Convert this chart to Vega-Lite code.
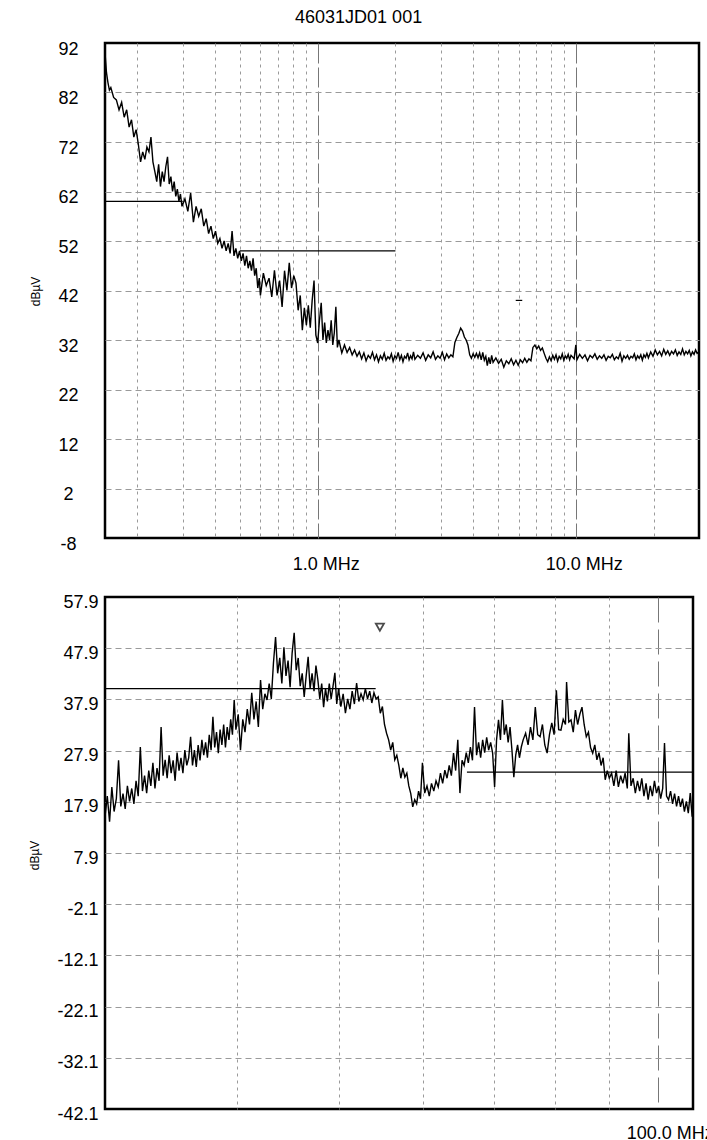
{
"$schema": "https://vega.github.io/schema/vega-lite/v6.json",
"background": "white",
"padding": {"left": 26, "top": 8, "right": 0, "bottom": 0},
"title": {"text": "46031JD01 001", "fontSize": 18, "font": "Liberation Sans", "fontWeight": "normal", "color": "black", "anchor": "middle", "offset": 12, "dx": -12},
"spacing": 16,
"config": {
  "view": {"stroke": "black", "strokeWidth": 2.5},
  "font": "Liberation Sans",
  "axis": {"labelFont": "Liberation Sans", "labelFontSize": 18, "labelColor": "black", "titleFont": "Liberation Sans", "titleFontSize": 12, "titleFontWeight": "normal", "titleColor": "black", "ticks": false, "domain": false, "gridWidth": 1}
},
"datasets": {
"top": [
{"f":0.150,"v":90},{"f":0.152,"v":86},{"f":0.154,"v":84},{"f":0.156,"v":82.5},{"f":0.158,"v":83},{"f":0.162,"v":81},{"f":0.166,"v":80.5},{"f":0.170,"v":78.5},{"f":0.174,"v":80},{"f":0.178,"v":77},{"f":0.182,"v":78.5},{"f":0.186,"v":75},{"f":0.190,"v":76.5},{"f":0.194,"v":73},{"f":0.198,"v":74.5},{"f":0.202,"v":71.5},{"f":0.206,"v":68},{"f":0.210,"v":70},{"f":0.214,"v":68.5},{"f":0.218,"v":71},{"f":0.222,"v":70},{"f":0.226,"v":73},{"f":0.230,"v":68},{"f":0.234,"v":66},{"f":0.238,"v":64},{"f":0.242,"v":67.5},{"f":0.246,"v":63},{"f":0.250,"v":66},{"f":0.254,"v":64},{"f":0.258,"v":67},{"f":0.262,"v":69},{"f":0.266,"v":63.5},{"f":0.270,"v":65},{"f":0.274,"v":62},{"f":0.278,"v":64},{"f":0.282,"v":61},{"f":0.286,"v":62.5},{"f":0.290,"v":60},{"f":0.294,"v":61.5},{"f":0.298,"v":59},
{"f":0.306,"v":60.5},{"f":0.314,"v":58},{"f":0.322,"v":61.7},{"f":0.330,"v":55.8},{"f":0.338,"v":59},{"f":0.346,"v":57},{"f":0.354,"v":58.5},{"f":0.362,"v":55},{"f":0.370,"v":56.5},{"f":0.378,"v":53.5},{"f":0.386,"v":55},{"f":0.394,"v":52.5},{"f":0.402,"v":54},{"f":0.410,"v":51.5},{"f":0.418,"v":52.5},{"f":0.426,"v":50.5},{"f":0.434,"v":52},{"f":0.442,"v":50},{"f":0.450,"v":51.5},{"f":0.458,"v":49.5},{"f":0.466,"v":54},{"f":0.474,"v":49},{"f":0.482,"v":50.5},{"f":0.490,"v":48.5},{"f":0.498,"v":50},{"f":0.506,"v":48},{"f":0.514,"v":49.5},{"f":0.522,"v":47},{"f":0.530,"v":49},{"f":0.538,"v":46.5},{"f":0.546,"v":48},{"f":0.554,"v":46},{"f":0.562,"v":48.5},{"f":0.570,"v":45},{"f":0.578,"v":46.5},{"f":0.586,"v":42.5},{"f":0.594,"v":44.5},{"f":0.600,"v":41},
{"f":0.616,"v":45.5},{"f":0.632,"v":43},{"f":0.648,"v":44.5},{"f":0.664,"v":40.7},{"f":0.680,"v":46.1},{"f":0.696,"v":41},{"f":0.712,"v":44},{"f":0.728,"v":38.7},{"f":0.744,"v":46},{"f":0.760,"v":42},{"f":0.776,"v":47.6},{"f":0.792,"v":42.5},{"f":0.808,"v":45},{"f":0.824,"v":43.5},{"f":0.840,"v":38},{"f":0.856,"v":41},{"f":0.872,"v":34},{"f":0.888,"v":38.5},{"f":0.904,"v":35},{"f":0.920,"v":39},{"f":0.936,"v":34.5},{"f":0.952,"v":40},{"f":0.968,"v":44},{"f":0.984,"v":33},{"f":1.000,"v":31.4},{"f":1.016,"v":36},{"f":1.032,"v":39.5},{"f":1.048,"v":32},{"f":1.064,"v":35.5},{"f":1.080,"v":31.4},{"f":1.096,"v":34},{"f":1.112,"v":32},{"f":1.128,"v":36},{"f":1.144,"v":31},{"f":1.160,"v":33.5},{"f":1.176,"v":38.7},{"f":1.192,"v":30.5},{"f":1.208,"v":32},
{"f":1.24,"v":29.4},{"f":1.27,"v":31},{"f":1.30,"v":29.5},{"f":1.33,"v":30.5},{"f":1.36,"v":29},{"f":1.39,"v":30},{"f":1.42,"v":28.7},{"f":1.45,"v":29.6},{"f":1.48,"v":28.2},{"f":1.51,"v":29.4},{"f":1.54,"v":27.8},{"f":1.57,"v":28.9},{"f":1.60,"v":28.3},{"f":1.63,"v":29.5},{"f":1.66,"v":28},{"f":1.69,"v":29},{"f":1.72,"v":27.6},{"f":1.75,"v":28.8},{"f":1.78,"v":28.1},{"f":1.81,"v":29.3},{"f":1.84,"v":27.9},{"f":1.87,"v":28.6},{"f":1.90,"v":28.2},{"f":1.93,"v":29.2},{"f":1.96,"v":27.7},{"f":1.99,"v":28.8},{"f":2.02,"v":28.3},{"f":2.05,"v":29.5},{"f":2.08,"v":28},{"f":2.11,"v":28.9},{"f":2.14,"v":27.6},{"f":2.17,"v":28.7},{"f":2.20,"v":28.3},{"f":2.23,"v":29.4},{"f":2.26,"v":28},{"f":2.29,"v":28.8},{"f":2.32,"v":28.2},{"f":2.35,"v":29.6},{"f":2.38,"v":28.1},
{"f":2.44,"v":28.9},{"f":2.50,"v":28.3},{"f":2.56,"v":29.4},{"f":2.62,"v":27.9},{"f":2.68,"v":29},{"f":2.74,"v":28.4},{"f":2.80,"v":29.6},{"f":2.86,"v":28.1},{"f":2.92,"v":28.8},{"f":2.98,"v":28.3},{"f":3.04,"v":29.5},{"f":3.10,"v":28},{"f":3.16,"v":29.2},{"f":3.22,"v":28.4},{"f":3.28,"v":29},{"f":3.34,"v":28.6},{"f":3.40,"v":31.5},{"f":3.46,"v":32.5},{"f":3.52,"v":33.3},{"f":3.58,"v":34.4},{"f":3.64,"v":33.8},{"f":3.70,"v":32.6},{"f":3.76,"v":32},{"f":3.82,"v":31},{"f":3.88,"v":29},{"f":3.94,"v":28.3},{"f":4.00,"v":29.2},{"f":4.06,"v":28.5},{"f":4.12,"v":29.3},{"f":4.18,"v":28.4},{"f":4.24,"v":29.4},{"f":4.30,"v":28},{"f":4.36,"v":29.5},{"f":4.42,"v":27.9},{"f":4.48,"v":28.7},{"f":4.54,"v":26.8},{"f":4.60,"v":28.5},{"f":4.66,"v":27.2},{"f":4.72,"v":28.9},{"f":4.78,"v":27.5},
{"f":4.90,"v":28.4},{"f":5.02,"v":27.3},{"f":5.14,"v":28.1},{"f":5.26,"v":26.5},{"f":5.38,"v":27.8},{"f":5.50,"v":27.2},{"f":5.62,"v":28.2},{"f":5.74,"v":27},{"f":5.86,"v":27.9},{"f":5.98,"v":26.9},{"f":6.10,"v":28},{"f":6.22,"v":27.4},{"f":6.34,"v":28.3},{"f":6.46,"v":27.5},{"f":6.58,"v":28.2},{"f":6.70,"v":27.8},{"f":6.82,"v":30.5},{"f":6.94,"v":31},{"f":7.06,"v":30.2},{"f":7.18,"v":30.8},{"f":7.30,"v":29.9},{"f":7.42,"v":30.4},{"f":7.54,"v":29.3},{"f":7.66,"v":28.3},{"f":7.78,"v":27.6},{"f":7.90,"v":28.6},{"f":8.02,"v":27.8},{"f":8.14,"v":28.9},{"f":8.26,"v":28.1},{"f":8.38,"v":29},{"f":8.50,"v":27.7},{"f":8.62,"v":28.7},{"f":8.74,"v":28.2},{"f":8.86,"v":29.2},{"f":8.98,"v":27.9},{"f":9.10,"v":28.8},{"f":9.22,"v":28.3},{"f":9.34,"v":29.1},{"f":9.46,"v":28},{"f":9.58,"v":28.9},
{"f":9.85,"v":28.2},{"f":10.0,"v":31},{"f":10.1,"v":28},{"f":10.35,"v":29.1},{"f":10.6,"v":28.3},{"f":10.85,"v":29},{"f":11.1,"v":27.8},{"f":11.35,"v":28.9},{"f":11.6,"v":28.4},{"f":11.85,"v":29.2},{"f":12.1,"v":28.1},{"f":12.35,"v":28.8},{"f":12.6,"v":28.3},{"f":12.85,"v":29},{"f":13.1,"v":27.9},{"f":13.35,"v":28.7},{"f":13.6,"v":28.4},{"f":13.85,"v":29.1},{"f":14.1,"v":28},{"f":14.35,"v":28.6},{"f":14.6,"v":28.2},{"f":14.85,"v":29.3},{"f":15.1,"v":27.7},{"f":15.35,"v":28.8},{"f":15.6,"v":28.3},{"f":15.85,"v":28.9},{"f":16.1,"v":28.1},{"f":16.35,"v":28.7},{"f":16.6,"v":28.4},{"f":16.85,"v":29.2},{"f":17.1,"v":28},{"f":17.35,"v":28.8},{"f":17.6,"v":28.3},{"f":17.85,"v":29},{"f":18.1,"v":27.9},{"f":18.35,"v":29},{"f":18.6,"v":28.5},{"f":18.85,"v":29.3},{"f":19.1,"v":28.4},
{"f":19.5,"v":29.6},{"f":19.9,"v":28.7},{"f":20.3,"v":30},{"f":20.7,"v":29},{"f":21.1,"v":29.7},{"f":21.5,"v":28.8},{"f":21.9,"v":30.1},{"f":22.3,"v":29.1},{"f":22.7,"v":29.8},{"f":23.1,"v":28.9},{"f":23.5,"v":29.7},{"f":23.9,"v":29.2},{"f":24.3,"v":30},{"f":24.7,"v":28.9},{"f":25.1,"v":29.6},{"f":25.5,"v":29.1},{"f":25.9,"v":30.2},{"f":26.3,"v":29},{"f":26.7,"v":29.7},{"f":27.1,"v":29.2},{"f":27.5,"v":29.9},{"f":27.9,"v":28.8},{"f":28.3,"v":29.6},{"f":28.7,"v":29.1},{"f":29.1,"v":30},{"f":29.5,"v":29.3},{"f":30.0,"v":29.6}
],
"topLimits": [{"f":0.15,"f2":0.3,"v":60},{"f":0.5,"f2":2.0,"v":50},{"f":5.85,"f2":6.2,"v":40}],
"bottom": [
{"f":30.00,"v":15},{"f":30.15,"v":19},{"f":30.30,"v":14},{"f":30.45,"v":20.8},{"f":30.60,"v":16},{"f":30.75,"v":18.5},{"f":30.90,"v":26},{"f":31.05,"v":17},{"f":31.20,"v":19.5},{"f":31.35,"v":16.5},{"f":31.50,"v":21},{"f":31.65,"v":18},{"f":31.80,"v":20.5},{"f":31.95,"v":17.5},{"f":32.10,"v":22},{"f":32.25,"v":19},{"f":32.40,"v":28.6},{"f":32.55,"v":20},{"f":32.70,"v":23},{"f":32.85,"v":19.6},{"f":33.00,"v":24},{"f":33.15,"v":21},{"f":33.30,"v":25.5},{"f":33.45,"v":20.5},{"f":33.60,"v":24.5},{"f":33.75,"v":22},{"f":33.90,"v":32.5},{"f":34.05,"v":23},{"f":34.20,"v":26.1},{"f":34.35,"v":22.5},{"f":34.50,"v":27},{"f":34.65,"v":23.5},{"f":34.80,"v":26},{"f":34.95,"v":22},{"f":35.10,"v":27.5},{"f":35.25,"v":24},{"f":35.40,"v":26.5},{"f":35.55,"v":23.5},{"f":35.70,"v":28},{"f":35.85,"v":25},{"f":36.00,"v":26.5},{"f":36.15,"v":30.6},{"f":36.30,"v":25},{"f":36.45,"v":28},{"f":36.60,"v":24.7},{"f":36.75,"v":29},{"f":36.90,"v":26},{"f":37.05,"v":30},{"f":37.20,"v":27},{"f":37.35,"v":29.5},{"f":37.50,"v":26.5},{"f":37.65,"v":31},{"f":37.80,"v":28},{"f":37.95,"v":34.5},{"f":38.10,"v":28.5},{"f":38.25,"v":31.5},{"f":38.40,"v":27.4},{"f":38.55,"v":32},{"f":38.70,"v":29},{"f":38.85,"v":33},{"f":39.00,"v":28.5},{"f":39.15,"v":32.5},{"f":39.30,"v":30},{"f":39.45,"v":34},{"f":39.60,"v":31},{"f":39.75,"v":37.8},{"f":39.90,"v":32},
{"f":40.1,"v":35},{"f":40.3,"v":28},{"f":40.5,"v":34},{"f":40.7,"v":31.5},{"f":40.9,"v":36},{"f":41.1,"v":33},{"f":41.3,"v":39.2},{"f":41.5,"v":34},{"f":41.7,"v":37.5},{"f":41.9,"v":32.5},{"f":42.1,"v":41.7},{"f":42.3,"v":36},{"f":42.5,"v":39},{"f":42.7,"v":37.8},{"f":42.9,"v":41},{"f":43.1,"v":38},{"f":43.3,"v":45},{"f":43.5,"v":50.1},{"f":43.7,"v":43},{"f":43.9,"v":46},{"f":44.1,"v":41},{"f":44.3,"v":48.1},{"f":44.5,"v":42.5},{"f":44.7,"v":45.5},{"f":44.9,"v":40.3},{"f":45.1,"v":47},{"f":45.3,"v":50.9},{"f":45.5,"v":43.6},{"f":45.7,"v":46},{"f":45.9,"v":40.5},{"f":46.1,"v":43},{"f":46.3,"v":38.4},{"f":46.5,"v":42.5},{"f":46.7,"v":46.2},{"f":46.9,"v":40},{"f":47.1,"v":43},{"f":47.3,"v":39.5},{"f":47.5,"v":44.5},{"f":47.7,"v":41.7},{"f":47.9,"v":38},{"f":48.1,"v":41},{"f":48.3,"v":36.4},{"f":48.5,"v":40},{"f":48.7,"v":37.5},{"f":48.9,"v":41},{"f":49.1,"v":38},{"f":49.3,"v":40.5},{"f":49.5,"v":43.1},{"f":49.7,"v":37},{"f":49.9,"v":40},
{"f":50.15,"v":36.5},{"f":50.40,"v":39},{"f":50.65,"v":35.2},{"f":50.90,"v":38},{"f":51.15,"v":36},{"f":51.40,"v":39.5},{"f":51.65,"v":37},{"f":51.90,"v":41.1},{"f":52.15,"v":37.5},{"f":52.40,"v":39},{"f":52.65,"v":37.8},{"f":52.90,"v":40},{"f":53.15,"v":38},{"f":53.40,"v":39.5},{"f":53.65,"v":37.2},{"f":53.90,"v":39.2},{"f":54.15,"v":38},{"f":54.40,"v":38.4},{"f":54.65,"v":35.2},{"f":54.90,"v":36.5},{"f":55.15,"v":33},{"f":55.40,"v":31.3},{"f":55.65,"v":30},{"f":55.90,"v":28},{"f":56.15,"v":29.5},{"f":56.40,"v":26.1},{"f":56.65,"v":27},{"f":56.90,"v":25},{"f":57.15,"v":22.5},{"f":57.40,"v":24.5},{"f":57.65,"v":22.7},{"f":57.90,"v":23.5},{"f":58.15,"v":21},{"f":58.40,"v":19.5},{"f":58.65,"v":16.9},{"f":58.90,"v":18.3},{"f":59.15,"v":17.5},{"f":59.40,"v":20},{"f":59.65,"v":18.5},
{"f":59.90,"v":25.5},{"f":60.20,"v":19.6},{"f":60.50,"v":21},{"f":60.80,"v":19},{"f":61.10,"v":21.5},{"f":61.40,"v":20},{"f":61.70,"v":22},{"f":62.00,"v":20.8},{"f":62.30,"v":23.5},{"f":62.60,"v":21.5},{"f":62.90,"v":24.1},{"f":63.20,"v":22.5},{"f":63.50,"v":25},{"f":63.80,"v":23},{"f":64.10,"v":27.4},{"f":64.40,"v":24},{"f":64.70,"v":30},{"f":65.00,"v":19.6},{"f":65.30,"v":26},{"f":65.60,"v":25},{"f":65.90,"v":27.5},{"f":66.20,"v":25.5},{"f":66.50,"v":28.6},{"f":66.80,"v":26},{"f":67.10,"v":36.4},{"f":67.40,"v":27},{"f":67.70,"v":29.5},{"f":68.00,"v":26.5},{"f":68.30,"v":30},{"f":68.60,"v":27.5},{"f":68.90,"v":30.5},{"f":69.20,"v":28},{"f":69.50,"v":29.5},{"f":69.80,"v":27.4},{"f":70.10,"v":20.8},{"f":70.40,"v":30},{"f":70.70,"v":33.9},{"f":71.00,"v":30},{"f":71.30,"v":37.8},{"f":71.60,"v":31},{"f":71.90,"v":33},{"f":72.20,"v":29.5},{"f":72.50,"v":32.5},{"f":72.80,"v":28},{"f":73.10,"v":22.7},{"f":73.40,"v":27},{"f":73.70,"v":29},{"f":74.00,"v":26.5},{"f":74.30,"v":28.6},{"f":74.60,"v":30},
{"f":75.0,"v":31.3},{"f":75.4,"v":29},{"f":75.8,"v":32.5},{"f":76.2,"v":30},{"f":76.6,"v":36.4},{"f":77.0,"v":31},{"f":77.4,"v":30.6},{"f":77.8,"v":33},{"f":78.2,"v":29},{"f":78.6,"v":27.4},{"f":79.0,"v":31},{"f":79.4,"v":33.3},{"f":79.8,"v":31},{"f":80.2,"v":39.7},{"f":80.6,"v":32},{"f":81.0,"v":31.9},{"f":81.4,"v":34},{"f":81.8,"v":33},{"f":82.0,"v":41.3},{"f":82.4,"v":33.5},{"f":82.8,"v":33.9},{"f":83.2,"v":31.5},{"f":83.6,"v":35.8},{"f":84.0,"v":33},{"f":84.4,"v":35},{"f":84.8,"v":36.4},{"f":85.2,"v":33},{"f":85.6,"v":30.6},{"f":86.0,"v":31.5},{"f":86.4,"v":28.5},{"f":86.8,"v":27.4},{"f":87.2,"v":29},{"f":87.6,"v":26.1},{"f":88.0,"v":27.5},{"f":88.4,"v":25},{"f":88.8,"v":26.5},{"f":89.2,"v":22.2},{"f":89.6,"v":24},
{"f":90.0,"v":22.5},{"f":90.45,"v":23.5},{"f":90.9,"v":21},{"f":91.35,"v":24},{"f":91.8,"v":20.8},{"f":92.25,"v":23},{"f":92.7,"v":21.5},{"f":93.15,"v":23.5},{"f":93.6,"v":20.5},{"f":93.9,"v":31.3},{"f":94.35,"v":21},{"f":94.8,"v":22.5},{"f":95.25,"v":19.6},{"f":95.7,"v":22},{"f":96.15,"v":20},{"f":96.6,"v":22.5},{"f":97.05,"v":19},{"f":97.5,"v":21.5},{"f":97.95,"v":18.3},{"f":98.4,"v":21},{"f":98.85,"v":19},{"f":99.3,"v":22},{"f":99.75,"v":19.6},{"f":100.2,"v":21},{"f":100.65,"v":18.5},{"f":101.1,"v":20.5},{"f":101.5,"v":29.4},{"f":101.95,"v":19},{"f":102.4,"v":18.3},{"f":102.85,"v":20},{"f":103.3,"v":17.5},{"f":103.75,"v":19.5},{"f":104.2,"v":17},{"f":104.65,"v":19},{"f":105.1,"v":16.9},{"f":105.55,"v":18.5},{"f":106.0,"v":16},{"f":106.45,"v":18},{"f":106.9,"v":15.7},{"f":107.35,"v":19.6},{"f":107.8,"v":15},{"f":108.0,"v":17}
],
"bottomLimits": [{"f":30,"f2":54.1,"v":40},{"f":66,"f2":108,"v":23.7}],
"marker": [{"f":54.6,"v":52}]
},
"vconcat": [
{
  "width": 594, "height": 495,
  "encoding": {
    "x": {"field": "f", "type": "quantitative", "scale": {"type": "log", "domain": [0.15, 30], "nice": false},
      "axis": {"values": [0.2,0.3,0.4,0.5,0.6,0.7,0.8,0.9,1,2,3,4,5,6,7,8,9,10,20], "title": null, "grid": true,
        "gridDash": {"condition": {"test": "datum.value == 1 || datum.value == 10", "value": [20, 4]}, "value": [3, 4]},
        "gridColor": {"condition": {"test": "datum.value == 1 || datum.value == 10", "value": "#777777"}, "value": "#9a9a9a"},
        "labelExpr": "datum.value == 1 ? '1.0 MHz' : (datum.value == 10 ? '10.0 MHz' : '')",
        "labelFlush": false, "labelOverlap": false, "labelBound": false, "labelPadding": 17, "labelOffset": 8}},
    "y": {"field": "v", "type": "quantitative", "scale": {"domain": [-8, 92], "nice": false, "zero": false},
      "axis": {"values": [-8,2,12,22,32,42,52,62,72,82,92], "title": "dBµV", "grid": true,
        "gridDash": [6, 4], "gridColor": "#9a9a9a",
        "gridOpacity": {"condition": {"test": "datum.value == -8 || datum.value == 92", "value": 0}, "value": 1},
        "labelExpr": "(datum.value < 0 ? '-' : '') + format(abs(datum.value), 'd')",
        "labelAlign": "center", "labelPadding": 37, "labelOffset": 6, "labelBaseline": "middle",
        "titleX": -70, "titleY": 248, "titleAngle": 270, "titleBaseline": "middle", "titleAlign": "center"}}
  },
  "layer": [
    {"data": {"name": "top"}, "mark": {"type": "line", "color": "black", "strokeWidth": 1.4}},
    {"data": {"name": "topLimits"}, "mark": {"type": "rule", "color": "black", "strokeWidth": 1.2}, "encoding": {"x2": {"field": "f2"}}}
  ]
},
{
  "width": 588, "height": 512,
  "encoding": {
    "x": {"field": "f", "type": "quantitative", "scale": {"type": "log", "domain": [30, 108], "nice": false},
      "axis": {"values": [40,50,60,70,80,90,100], "title": null, "grid": true,
        "gridDash": {"condition": {"test": "datum.value == 100", "value": [25, 7]}, "value": [3, 4]},
        "gridColor": {"condition": {"test": "datum.value == 100", "value": "#777777"}, "value": "#9a9a9a"},
        "labelExpr": "datum.value == 100 ? '100.0 MHz' : ''",
        "labelFlush": false, "labelOverlap": false, "labelBound": false, "labelPadding": 15, "labelOffset": 12}},
    "y": {"field": "v", "type": "quantitative", "scale": {"domain": [-42.1, 57.9], "nice": false, "zero": false},
      "axis": {"values": [-42.1,-32.1,-22.1,-12.1,-2.1,7.9,17.9,27.9,37.9,47.9,57.9], "title": "dBµV", "grid": true,
        "gridDash": [6, 4], "gridColor": "#9a9a9a",
        "gridOpacity": {"condition": {"test": "datum.value == -42.1 || datum.value == 57.9", "value": 0}, "value": 1},
        "labelExpr": "(datum.value < 0 ? '-' : '') + format(abs(datum.value), '.1f')",
        "labelAlign": "right", "labelPadding": 7, "labelOffset": 5, "labelBaseline": "middle",
        "titleX": -71, "titleY": 258, "titleAngle": 270, "titleBaseline": "middle", "titleAlign": "center"}}
  },
  "layer": [
    {"data": {"name": "bottom"}, "mark": {"type": "line", "color": "black", "strokeWidth": 1.4}},
    {"data": {"name": "bottomLimits"}, "mark": {"type": "rule", "color": "black", "strokeWidth": 1.2}, "encoding": {"x2": {"field": "f2"}}},
    {"data": {"name": "marker"}, "mark": {"type": "point", "shape": "triangle-down", "filled": false, "color": "black", "size": 65, "strokeWidth": 1.8}}
  ]
}
]
}
